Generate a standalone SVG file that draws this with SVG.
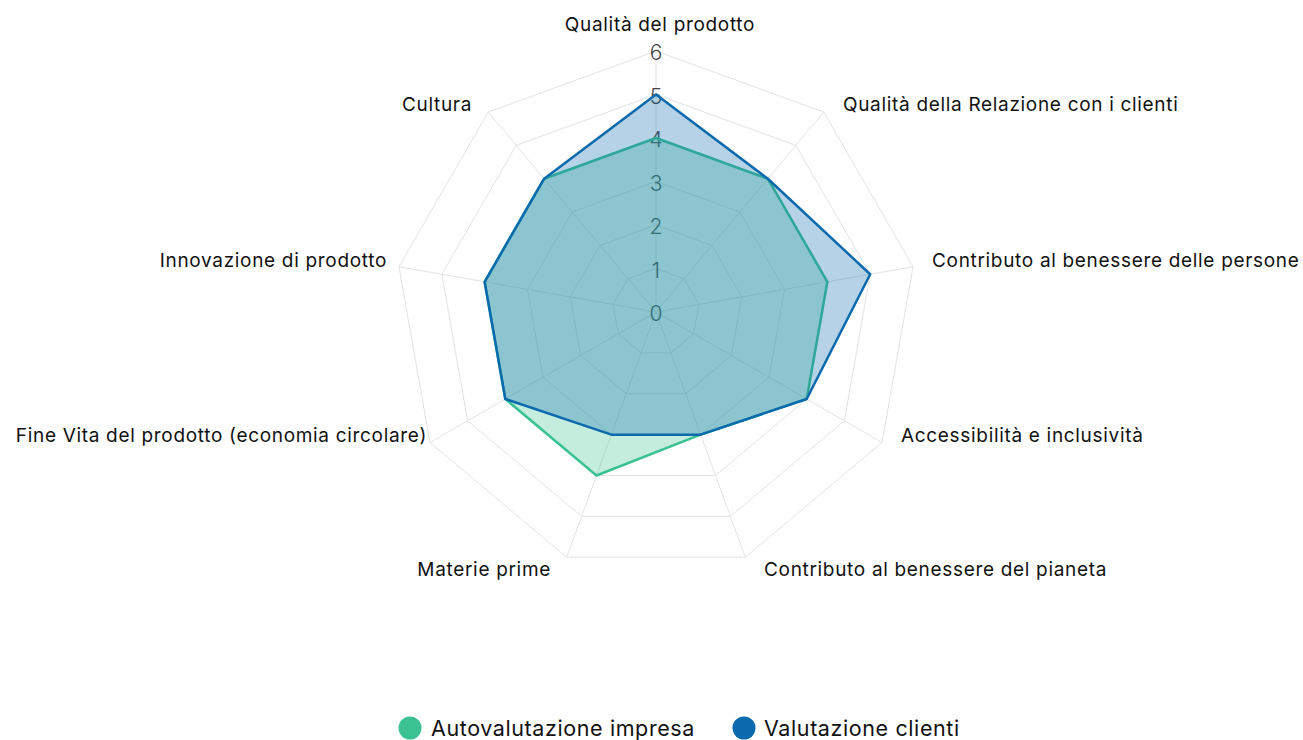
<svg xmlns="http://www.w3.org/2000/svg" width="1303" height="740" viewBox="0 0 1303 740">
<style>
.grid{fill:none;stroke:#e3e3e3;stroke-width:1}
.tick{font-family:Inter,"Open Sans",sans-serif;font-weight:300;font-size:21px;fill:#444;text-anchor:middle;dominant-baseline:central}
.lbl{font-family:Inter,"Open Sans",sans-serif;font-size:19px;letter-spacing:0.68px;fill:#111;dominant-baseline:central}
.leg{font-family:Inter,"Open Sans",sans-serif;font-size:21.5px;letter-spacing:0.6px;fill:#111;dominant-baseline:central}
.auto{fill:#3BC293;fill-opacity:0.3;stroke:#3BC293;stroke-width:2.5;stroke-linejoin:round}
.cli{fill:#0A6AAD;fill-opacity:0.3;stroke:#0A6AAD;stroke-width:2.5;stroke-linejoin:round}
</style>
<rect width="1303" height="740" fill="#fff"/>
<g id="grid" transform="translate(656 312)">
<polygon class="grid" points="0,-43.5 27.96,-33.32 42.84,-7.55 37.67,21.75 14.88,40.88 -14.88,40.88 -37.67,21.75 -42.84,-7.55 -27.96,-33.32"/>
<polygon class="grid" points="0,-87 55.92,-66.64 85.68,-15.1 75.34,43.5 29.75,81.75 -29.75,81.75 -75.34,43.5 -85.68,-15.1 -55.92,-66.64"/>
<polygon class="grid" points="0,-130.5 83.89,-99.96 128.52,-22.65 113.01,65.25 44.63,122.63 -44.63,122.63 -113.01,65.25 -128.52,-22.65 -83.89,-99.96"/>
<polygon class="grid" points="0,-174 111.85,-133.28 171.36,-30.21 150.68,87 59.51,163.51 -59.51,163.51 -150.68,87 -171.36,-30.21 -111.85,-133.28"/>
<polygon class="grid" points="0,-217.5 139.81,-166.61 214.19,-37.76 188.36,108.75 74.39,204.38 -74.39,204.38 -188.36,108.75 -214.19,-37.76 -139.81,-166.61"/>
<polygon class="grid" points="0,-261 167.77,-199.93 257.03,-45.31 226.03,130.5 89.26,245.26 -89.26,245.26 -226.03,130.5 -257.03,-45.31 -167.77,-199.93"/>
<path class="grid" d="M0,0L0,-261M0,0L167.77,-199.93M0,0L257.03,-45.31M0,0L226.03,130.5M0,0L89.26,245.26M0,0L-89.26,245.26M0,0L-226.03,130.5M0,0L-257.03,-45.31M0,0L-167.77,-199.93"/>
</g>
<g id="ticks">
<text class="tick" x="656" y="313">0</text>
<text class="tick" x="656" y="270">1</text>
<text class="tick" x="656" y="226">2</text>
<text class="tick" x="656" y="183">3</text>
<text class="tick" x="656" y="139">4</text>
<text class="tick" x="656" y="96">5</text>
<text class="tick" x="656" y="52">6</text>
</g>
<g id="series" transform="translate(656 312)">
<polygon id="autovalutazione" class="auto" points="0,-174 111.85,-133.28 171.36,-30.21 150.68,87 44.63,122.63 -59.51,163.51 -150.68,87 -171.36,-30.21 -111.85,-133.28"/>
<polygon id="clienti" class="cli" points="0,-217.5 111.85,-133.28 214.19,-37.76 150.68,87 44.63,122.63 -44.63,122.63 -150.68,87 -171.36,-30.21 -111.85,-133.28"/>
</g>
<g id="labels">
<text class="lbl" x="660" y="24" text-anchor="middle">Qualità del prodotto</text>
<text class="lbl" x="843" y="104">Qualità della Relazione con i clienti</text>
<text class="lbl" x="932" y="260">Contributo al benessere delle persone</text>
<text class="lbl" x="901" y="435">Accessibilità e inclusività</text>
<text class="lbl" x="764" y="569">Contributo al benessere del pianeta</text>
<text class="lbl" x="551" y="569" text-anchor="end">Materie prime</text>
<text class="lbl" x="427" y="435" text-anchor="end">Fine Vita del prodotto (economia circolare)</text>
<text class="lbl" x="387" y="260" text-anchor="end">Innovazione di prodotto</text>
<text class="lbl" x="472" y="104" text-anchor="end">Cultura</text>
</g>
<g id="legend">
<circle cx="410" cy="728" r="11.5" fill="#3BC293"/>
<text class="leg" x="431" y="728">Autovalutazione impresa</text>
<circle cx="744" cy="728" r="11.5" fill="#0A6AAD"/>
<text class="leg" x="764" y="728">Valutazione clienti</text>
</g>
</svg>
